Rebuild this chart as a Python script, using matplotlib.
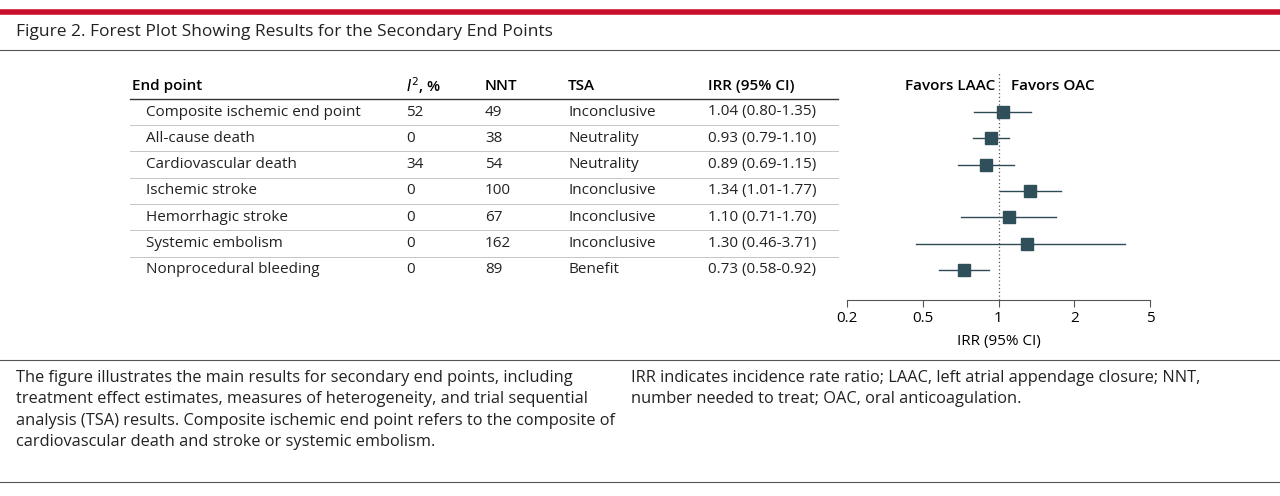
import numpy as np
import matplotlib.pyplot as plt
from matplotlib.lines import Line2D

plt.rcParams['font.family'] = ['Open Sans', 'DejaVu Sans']

end_points = ['Composite ischemic end point', 'All-cause death', 'Cardiovascular death',
              'Ischemic stroke', 'Hemorrhagic stroke', 'Systemic embolism', 'Nonprocedural bleeding']
i2 = ['52', '0', '34', '0', '0', '0', '0']
nnt = ['49', '38', '54', '100', '67', '162', '89']
tsa = ['Inconclusive', 'Neutrality', 'Neutrality', 'Inconclusive', 'Inconclusive', 'Inconclusive', 'Benefit']
irr = [1.04, 0.93, 0.89, 1.34, 1.10, 1.30, 0.73]
lo = [0.80, 0.79, 0.69, 1.01, 0.71, 0.46, 0.58]
hi = [1.35, 1.10, 1.15, 1.77, 1.70, 3.71, 0.92]
ticks = [0.2, 0.5, 1, 2, 5]

W, H = 1280, 496
fig = plt.figure(figsize=(12.8, 4.96), dpi=100)

def fx(px): return px / W
def fy(py): return 1 - py / H

def hline(x0, x1, y, color, lw):
    fig.add_artist(Line2D([fx(x0), fx(x1)], [fy(y), fy(y)], color=color, lw=lw, transform=fig.transFigure))

# header band
hline(0, W, 12, '#c8102e', 4)
fig.text(fx(16), fy(32), 'Figure 2. Forest Plot Showing Results for the Secondary End Points',
         fontsize=12.5, va='center', color='#222222')
hline(0, W, 50, '#555555', 0.8)

# table
row0, step = 112, 26.33
cols = [146, 406, 485, 568, 708]
hdr_y = 86
fs = 11
fig.text(fx(132), fy(hdr_y), 'End point', fontsize=fs, va='center', fontweight='semibold')
fig.text(fx(406), fy(hdr_y), '$\\it{I}^2$, %', fontsize=fs, va='center', fontweight='semibold')
fig.text(fx(485), fy(hdr_y), 'NNT', fontsize=fs, va='center', fontweight='semibold')
fig.text(fx(568), fy(hdr_y), 'TSA', fontsize=fs, va='center', fontweight='semibold')
fig.text(fx(708), fy(hdr_y), 'IRR (95% CI)', fontsize=fs, va='center', fontweight='semibold')
hline(130, 838, 99, '#333333', 1.0)
for i in range(len(end_points)):
    y = row0 + i * step
    vals = [end_points[i], i2[i], nnt[i], tsa[i], '%.2f (%.2f-%.2f)' % (irr[i], lo[i], hi[i])]
    for x, v in zip(cols, vals):
        fig.text(fx(x), fy(y), v, fontsize=fs, va='center', color='#222222')
    if i < len(end_points) - 1:
        hline(130, 838, y + 13, '#bbbbbb', 0.6)

# forest plot: ticks evenly spaced, log interpolation between them
lt = np.log(ticks)
pos = np.arange(len(ticks), dtype=float)
def fwd(x):
    return np.interp(np.log(np.clip(x, 1e-9, None)), lt, pos, left=None, right=None)
def inv(p):
    return np.exp(np.interp(p, pos, lt))

top, bot, left, right = 73, 300, 847, 1150
ax = fig.add_axes([fx(left), fy(bot), (right - left) / W, (bot - top) / H])
ax.set_xscale('function', functions=(fwd, inv))
ax.set_xlim(0.2, 5)
ax.set_ylim((bot - row0) / step, (top - row0) / step)
ypos = list(range(len(irr)))
for y, l, h in zip(ypos, lo, hi):
    ax.plot([l, h], [y, y], color='#2f4a55', lw=1)
ax.plot(irr, ypos, 's', color='#2f4f5a', ms=8)
ax.axvline(1, color='#555555', lw=0.9, ls=(0, (1, 2)))
ax.set_xticks(ticks)
ax.set_xticklabels([str(t) for t in ticks], fontsize=fs)
ax.minorticks_off()
ax.set_yticks([])
for s in ['top', 'right', 'left']:
    ax.spines[s].set_visible(False)
ax.spines['bottom'].set_color('#555555')
ax.tick_params(axis='x', length=5, color='#555555', pad=3)
ax.set_xlabel('IRR (95% CI)', fontsize=fs, labelpad=6)
fig.text(fx(995), fy(hdr_y), 'Favors LAAC', fontsize=fs, va='center', ha='right', fontweight='semibold')
fig.text(fx(1011), fy(hdr_y), 'Favors OAC', fontsize=fs, va='center', ha='left', fontweight='semibold')

# footnotes
hline(0, W, 360, '#555555', 0.8)
left_note = ('The figure illustrates the main results for secondary end points, including\n'
             'treatment effect estimates, measures of heterogeneity, and trial sequential\n'
             'analysis (TSA) results. Composite ischemic end point refers to the composite of\n'
             'cardiovascular death and stroke or systemic embolism.')
right_note = ('IRR indicates incidence rate ratio; LAAC, left atrial appendage closure; NNT,\n'
              'number needed to treat; OAC, oral anticoagulation.')
fig.text(fx(16), fy(370), left_note, fontsize=11.8, va='top', linespacing=1.45, color='#222222')
fig.text(fx(631), fy(370), right_note, fontsize=11.8, va='top', linespacing=1.45, color='#222222')
hline(0, W, 482, '#555555', 0.8)

fig.savefig('out.png', dpi=100)
